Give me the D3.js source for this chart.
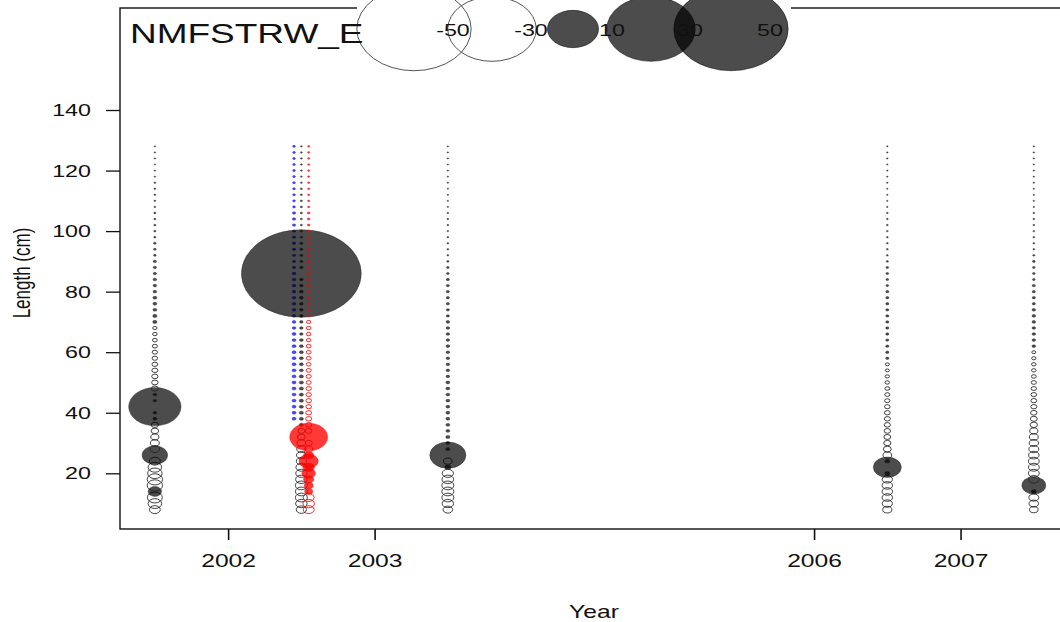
<!DOCTYPE html>
<html><head><meta charset="utf-8">
<script src="https://cdn.jsdelivr.net/npm/d3@7"></script>
<style>
html,body{margin:0;padding:0;background:#fff;}
svg{display:block;font-family:"Liberation Sans",Arial,sans-serif;}
</style></head>
<body>
<svg id="chart" width="1060" height="622"></svg>
<script>
// ---------------- data ----------------
const lengthBins = [8,10,12,14,16,18,20,22,24,26,28,30,32,34,36,38,40,42,44,46,48,50,52,54,56,58,60,62,64,66,68,70,72,74,76,78,80,82,84,86,88,90,92,94,96,98,100,102,104,106,108,110,112,114,116,118,120,122,124,126,128];

const res2001 = [-0.45,-0.7,-0.85,0.7,-0.9,-0.9,-0.8,-0.7,-0.45,2.5,
  -0.35,-0.3,-0.25,-0.22,-0.2,0.06,0.05,10.5,0.05,0.06,
  -0.18,-0.16,-0.15,-0.14,-0.13,-0.12,-0.11,-0.1,-0.09,-0.08,
  -0.07,0.07,0.07,0.06,0.06,0.06,0.05,0.05,0.05,0.04,
  0.04,0.04,0.03,0.03,0.03,0.02,0.02,0.02,0.02,0.02,
  0.015,0.015,0.015,0.015,0.015,0.01,0.01,0.01,0.01,0.01,0.01];

const res2002Black = [-0.4,-0.5,-0.55,-0.55,-0.55,-0.5,-0.48,-0.45,-0.4,-0.36,
  -0.32,-0.28,-0.24,-0.18,0.07,0.07,0.07,0.07,0.07,0.07,
  0.07,0.07,0.07,0.06,0.06,0.06,0.06,0.06,0.06,0.05,
  0.05,0.05,0.05,0.05,0.05,0.06,0.06,0.05,0.05,55,
  0.05,0.04,0.04,0.04,0.04,0.03,0.03,0.02,0.02,0.02,
  0.02,0.02,0.02,0.02,0.015,0.015,0.015,0.015,0.015,0.015,0.015];

const res2002Red = [-0.45,-0.5,-0.45,0.25,0.3,0.4,0.7,0.5,1.4,0.4,
  -0.25,-0.2,5.5,-0.17,-0.15,-0.14,-0.13,-0.12,-0.12,-0.11,
  -0.11,-0.1,-0.1,-0.1,-0.09,-0.09,-0.09,-0.09,-0.08,-0.08,
  -0.08,-0.07,0.03,0.03,0.03,0.03,0.03,0.03,0.03,0.03,
  0.03,0.03,0.03,0.03,0.03,0.03,0.03,0.03,0.03,0.03,
  0.02,0.02,0.02,0.02,0.02,0.02,0.02,0.02,0.02,0.02,0.02];

const res2002Blue = [null,null,null,null,null,null,null,null,null,null,
  null,null,null,null,null,0.06,0.06,0.06,0.06,0.06,
  0.06,0.06,0.06,0.06,0.06,0.06,0.06,0.06,0.06,0.06,
  0.05,0.05,0.05,0.05,0.05,0.05,0.05,0.05,0.05,0.05,
  0.04,0.04,0.04,0.04,0.04,0.04,0.04,0.04,0.04,0.04,
  0.03,0.03,0.03,0.03,0.03,0.03,0.03,0.03,0.03,0.03,0.03];

const res2003 = [-0.35,-0.5,-0.55,-0.55,-0.55,-0.52,-0.48,0.15,-0.28,5,
  0.08,0.07,0.07,0.06,0.06,0.06,0.06,0.06,0.06,0.06,
  0.06,0.06,0.05,0.05,0.05,0.05,0.05,0.05,0.05,0.05,
  0.05,0.05,0.04,0.04,0.04,0.04,0.04,0.04,0.04,0.03,
  0.03,0.02,0.015,0.015,0.015,0.015,0.015,0.015,0.015,0.015,
  0.01,0.01,0.01,0.01,0.01,0.01,0.01,0.01,0.01,0.01,0.01];

const res2006 = [-0.32,-0.4,-0.42,-0.42,-0.42,-0.4,0.1,3,0.1,-0.28,
  -0.24,-0.2,-0.18,-0.16,-0.15,-0.14,-0.13,-0.12,-0.11,-0.1,
  -0.09,-0.08,-0.07,-0.06,-0.06,0.04,0.04,0.04,0.04,0.04,
  0.04,0.04,0.04,0.04,0.04,0.04,0.04,0.03,0.03,0.03,
  0.03,0.02,0.015,0.015,0.015,0.015,0.015,0.015,0.015,0.015,
  0.01,0.01,0.01,0.01,0.01,0.01,0.01,0.01,0.01,0.01,0.01];

const res2007 = [-0.28,-0.35,-0.38,0.1,2.2,-0.42,-0.45,-0.45,-0.45,-0.42,
  -0.38,-0.34,-0.3,-0.26,-0.21,-0.18,-0.16,-0.14,-0.13,-0.12,
  -0.11,-0.1,-0.09,-0.08,-0.08,-0.07,-0.06,0.05,0.05,0.05,
  0.05,0.05,0.05,0.05,0.04,0.04,0.04,0.04,0.03,0.03,
  0.03,0.03,0.02,0.015,0.015,0.015,0.015,0.015,0.015,0.015,
  0.01,0.01,0.01,0.01,0.01,0.01,0.01,0.01,0.01,0.01,0.01];

// x-position (year) of each series, in draw order
const seriesYears  = [2001.5, 2002.45, 2002.5, 2002.55, 2003.5, 2006.5, 2007.5];
const seriesValues = [res2001, res2002Blue, res2002Black, res2002Red, res2003, res2006, res2007];
const seriesColors = ["#000000", "#0000ff", "#000000", "#ff0000", "#000000", "#000000", "#000000"];

const xTicks = [2002, 2003, 2006, 2007];
const yTicks = [20, 40, 60, 80, 100, 120, 140];
const legendValues = [-50, -30, 10, 30, 50];
const fleetName = "NMFSTRW_E";

// ---------------- drawing ----------------
const SX = 1.37;   // horizontal stretch of the original image
const K = 5.9;     // bubble radius per sqrt(|residual|)
const svg = d3.select("#chart");
const FONT = '"Liberation Sans", Arial, sans-serif';

const x = d3.scaleLinear().domain([2001.262, 2008.3]).range([120, 1151]);
const y = d3.scaleLinear().domain([1.6, 173.7]).range([529, 8]);
const rad = v => K * Math.sqrt(Math.abs(v));

function stretchText(sel){
  sel.each(function(){
    const t = d3.select(this);
    const tx = +t.attr("x") || 0;
    t.attr("transform", `translate(${tx*(1-SX)},0) scale(${SX},1)`);
  });
}

// plot box
svg.append("rect").attr("x", 120).attr("y", 8).attr("width", 1000).attr("height", 521)
  .attr("fill", "none").attr("stroke", "#111").attr("stroke-width", 1.4);

// axes
const yAxis = svg.append("g").attr("transform", "translate(120,0)")
  .call(d3.axisLeft(y).tickValues(yTicks).tickSize(14).tickPadding(15).tickFormat(d3.format("d")));
yAxis.select(".domain").remove();
yAxis.selectAll("line").attr("stroke", "#111").attr("stroke-width", 1.3);
yAxis.selectAll("text").attr("font-size", 17).attr("font-family", FONT).attr("fill", "#111").call(stretchText);

const xAxis = svg.append("g").attr("transform", "translate(0,529)")
  .call(d3.axisBottom(x).tickValues(xTicks).tickSize(11).tickPadding(14).tickFormat(d3.format("d")));
xAxis.select(".domain").remove();
xAxis.selectAll("line").attr("stroke", "#111").attr("stroke-width", 1.6);
xAxis.selectAll("text").attr("font-size", 18).attr("font-family", FONT).attr("fill", "#111").call(stretchText);

// axis titles
svg.append("text").attr("x", 594).attr("y", 618).attr("text-anchor", "middle")
  .attr("font-size", 18).attr("font-family", FONT).attr("fill", "#111").text("Year").call(stretchText);
svg.append("text").attr("text-anchor", "middle")
  .attr("transform", `translate(30,273) scale(${SX},1) rotate(-90)`)
  .attr("font-size", 17).attr("font-family", FONT).attr("fill", "#111").text("Length (cm)");

// bubbles
seriesYears.forEach((yr, si) => {
  const vals = seriesValues[si];
  const col = seriesColors[si];
  const pts = lengthBins.map((L, i) => ({L, v: vals[i]})).filter(d => d.v !== null);
  svg.append("g").selectAll("ellipse").data(pts).enter().append("ellipse")
    .attr("cx", x(yr))
    .attr("cy", d => y(d.L))
    .attr("rx", d => SX * rad(d.v))
    .attr("ry", d => rad(d.v))
    .attr("fill", d => d.v > 0 ? col : "none")
    .attr("fill-opacity", d => d.v > 0 ? (col === "#ff0000" ? 0.78 : 0.7) : 0)
    .attr("stroke", col === "#000000" ? "#222" : col)
    .attr("stroke-opacity", d => d.v > 0 ? 0.5 : 0.85)
    .attr("stroke-width", d => d.v > 0 ? 0.8 : 1);
});

// legend
svg.append("rect").attr("x", 357).attr("y", 4).attr("width", 434).attr("height", 8).attr("fill", "#fff");
const legX = [414, 492, 573, 651, 731];
const legY = 29;
legendValues.forEach((v, i) => {
  svg.append("ellipse").attr("cx", legX[i]).attr("cy", legY)
    .attr("rx", SX * rad(v)).attr("ry", rad(v))
    .attr("fill", v > 0 ? "#000" : "none").attr("fill-opacity", v > 0 ? 0.7 : 0)
    .attr("stroke", v > 0 ? "#000" : "#555").attr("stroke-opacity", v > 0 ? 0.5 : 1)
    .attr("stroke-width", 1);
});
legendValues.forEach((v, i) => {
  svg.append("text").attr("x", legX[i] + 39).attr("y", legY + 7).attr("text-anchor", "middle")
    .attr("font-size", 17).attr("font-family", FONT).attr("fill", "#111").text(String(v)).call(stretchText);
});
svg.append("text").attr("x", 130).attr("y", 43).attr("font-size", 27).attr("font-family", FONT)
  .attr("fill", "#111").text(fleetName).call(stretchText);
</script>
</body></html>
